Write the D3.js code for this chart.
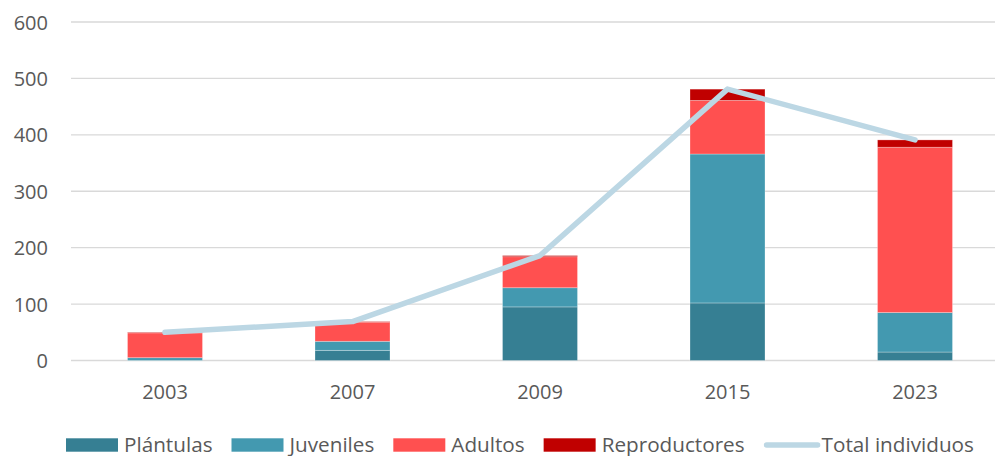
<!DOCTYPE html>
<html>
<head>
<meta charset="utf-8">
<script src="https://cdn.jsdelivr.net/npm/d3@7"></script>
<style>
  html, body { margin: 0; padding: 0; background: #fff; }
  svg { display: block; font-family: "Open Sans", sans-serif; }
</style>
</head>
<body>
<svg id="chart" width="995" height="456"></svg>
<script>
const categories = ["2003", "2007", "2009", "2015", "2023"];
const plantulas = [0, 18, 95, 102, 15];
const juveniles = [5, 16, 34, 264, 70];
const adultos = [44, 34, 55, 95, 293];
const reproductores = [1, 1, 2, 20, 13];
const totalIndividuos = [50, 69, 186, 481, 391];
const yTicks = [0, 100, 200, 300, 400, 500, 600];
const seriesNames = ["Plántulas", "Juveniles", "Adultos", "Reproductores"];
const lineName = "Total individuos";

const colors = {
  "Plántulas": "#367F93",
  "Juveniles": "#4399B0",
  "Adultos": "#FF5050",
  "Reproductores": "#C00000",
  "Total individuos": "#BCD7E4"
};
const textColor = "#595959";

const svg = d3.select("#chart");

const x = d3.scaleBand()
  .domain(categories)
  .range([71.25, 1008.75])
  .paddingInner(0.6)
  .paddingOuter(0.3);

const y = d3.scaleLinear().domain([0, 600]).range([360.5, 22]);

// gridlines
svg.append("g").selectAll("line")
  .data(yTicks)
  .join("line")
  .attr("x1", 71)
  .attr("x2", 1010)
  .attr("y1", d => y(d))
  .attr("y2", d => y(d))
  .attr("stroke", "#D9D9D9")
  .attr("stroke-width", 1.4);

// y axis labels
const yAxis = d3.axisLeft(y).tickValues(yTicks).tickSize(0).tickPadding(0);
const gy = svg.append("g").attr("transform", "translate(48,0)").call(yAxis);
gy.select(".domain").remove();
gy.selectAll("text")
  .attr("fill", textColor)
  .attr("font-size", 20)
  .attr("font-family", "Open Sans, sans-serif")
  .attr("dy", "0.35em");

// stacked bars
const table = categories.map((c, i) => ({
  cat: c,
  "Plántulas": plantulas[i],
  "Juveniles": juveniles[i],
  "Adultos": adultos[i],
  "Reproductores": reproductores[i]
}));
const stack = d3.stack().keys(seriesNames)(table);

svg.append("g").selectAll("g")
  .data(stack)
  .join("g")
  .attr("fill", d => colors[d.key])
  .selectAll("rect")
  .data(d => d)
  .join("rect")
  .attr("x", d => x(d.data.cat))
  .attr("width", x.bandwidth())
  .attr("y", d => y(d[1]))
  .attr("height", d => Math.max(0, y(d[0]) - y(d[1])))
  .attr("stroke", "rgba(255,255,255,0.35)")
  .attr("stroke-width", 0.8);

// line
const line = d3.line()
  .x((d, i) => x(categories[i]) + x.bandwidth() / 2)
  .y(d => y(d));

svg.append("path")
  .datum(totalIndividuos)
  .attr("d", line)
  .attr("fill", "none")
  .attr("stroke", colors[lineName])
  .attr("stroke-width", 5.5)
  .attr("stroke-linecap", "round")
  .attr("stroke-linejoin", "round");

// x axis labels
const xAxis = d3.axisBottom(x).tickSize(0).tickPadding(0);
const gx = svg.append("g").attr("transform", "translate(0,399)").call(xAxis);
gx.select(".domain").remove();
gx.selectAll("text")
  .attr("fill", textColor)
  .attr("font-size", 20)
  .attr("font-family", "Open Sans, sans-serif")
  .attr("dy", 0)
  .attr("y", 0);

// legend
const legend = svg.append("g");
const legendItems = seriesNames.concat([lineName]);
let lx = 66;
legendItems.forEach(name => {
  const g = legend.append("g");
  if (name === lineName) {
    g.append("line")
      .attr("x1", lx + 3).attr("x2", lx + 54)
      .attr("y1", 445).attr("y2", 445)
      .attr("stroke", colors[name])
      .attr("stroke-width", 5.5)
      .attr("stroke-linecap", "round");
  } else {
    g.append("rect")
      .attr("x", lx).attr("y", 438.3)
      .attr("width", 52).attr("height", 13.4)
      .attr("fill", colors[name]);
  }
  const t = g.append("text")
    .attr("x", lx + 58)
    .attr("y", 451.5)
    .attr("fill", textColor)
    .attr("font-size", 20.7)
    .text(name);
  const w = t.node().getComputedTextLength();
  lx = lx + 58 + w + 19;
});
</script>
</body>
</html>
